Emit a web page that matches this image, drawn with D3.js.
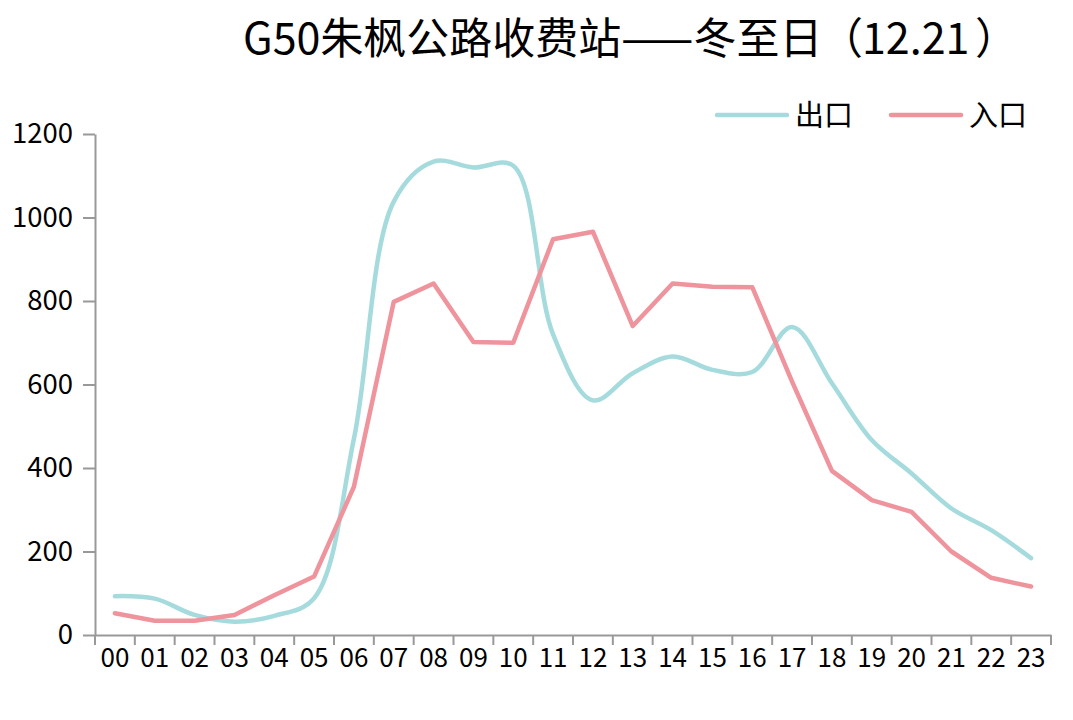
<!DOCTYPE html>
<html>
<head>
<meta charset="utf-8">
<script src="https://cdn.jsdelivr.net/npm/d3@7"></script>
<style>
  html, body { margin: 0; padding: 0; background: #fff; }
  svg { display: block; font-family: "Noto Sans CJK SC", "Noto Sans", sans-serif; }
  text { text-spacing-trim: space-all; }
</style>
</head>
<body>
<svg id="chart" width="1073" height="720"></svg>
<script>
const titleMain = "G50朱枫公路收费站——冬至日";
const titleDate = ["（", "12.21", "）"];
const hours = ["00","01","02","03","04","05","06","07","08","09","10","11","12","13","14","15","16","17","18","19","20","21","22","23"];
const seriesNames = ["出口", "入口"];
const exitValues  = [93, 87, 48, 32, 46, 88, 470, 1038, 1134, 1120, 1124, 720, 562, 627, 667, 635, 630, 738, 603, 467, 387, 303, 251, 184];
const entryValues = [52, 34, 34, 48, 95, 140, 355, 798, 842, 702, 700, 948, 966, 740, 842, 834, 833, 607, 393, 323, 295, 200, 137, 116];
const yTicks = [0, 200, 400, 600, 800, 1000, 1200];
const colors = ["#a6dbde", "#ef939c"];

const svg = d3.select("#chart");
const x = d3.scaleBand().domain(hours).range([95, 1051]);
const y = d3.scaleLinear().domain([0, 1200]).range([635, 134]);
const axisColor = "#999";

// title (pieces placed separately so the full-width brackets keep their width)
const tg = svg.append("g").style("font-size", "43px").attr("fill", "#000");
const titlePieces = [
  {text: titleMain, x: 243},
  {text: titleDate[0], x: 820},
  {text: titleDate[1], x: 862},
  {text: titleDate[2], x: 975}
];
titlePieces.forEach(p => tg.append("text").attr("x", p.x).attr("y", 54).text(p.text));

// y axis
const yAxis = svg.append("g").attr("transform", "translate(95,0)")
  .call(d3.axisLeft(y).tickValues(yTicks).tickFormat(d3.format("d")).tickSize(12).tickSizeOuter(0).tickPadding(10));
yAxis.select(".domain").attr("stroke", axisColor).attr("stroke-width", 2);
yAxis.selectAll(".tick line").attr("stroke", axisColor).attr("stroke-width", 2);
yAxis.selectAll(".tick text").style("font-size", "27.5px").attr("fill", "#000")
  .style("font-family", '"Noto Sans CJK SC", sans-serif');

// x axis
const xAxis = svg.append("g").attr("transform", "translate(0,635)")
  .call(d3.axisBottom(x).tickSize(0).tickSizeOuter(0).tickPadding(14));
xAxis.select(".domain").attr("stroke", axisColor).attr("stroke-width", 2);
xAxis.selectAll(".tick text").style("font-size", "26px").attr("fill", "#000")
  .style("font-family", '"Noto Sans CJK SC", sans-serif');
const bounds = hours.map(h => x(h)).concat([x.range()[1]]);
xAxis.selectAll(".bound").data(bounds).enter().append("line")
  .attr("x1", d => d).attr("x2", d => d).attr("y1", 0).attr("y2", 10)
  .attr("stroke", axisColor).attr("stroke-width", 2);

const cx = h => x(h) + x.bandwidth() / 2;

// exit (smooth)
const exitLine = d3.line().x((d, i) => cx(hours[i])).y(d => y(d)).curve(d3.curveCatmullRom.alpha(0.5));
svg.append("path").datum(exitValues).attr("d", exitLine)
  .attr("fill", "none").attr("stroke", colors[0]).attr("stroke-width", 4.5)
  .attr("stroke-linejoin", "round").attr("stroke-linecap", "round");

// entry (straight)
const entryLine = d3.line().x((d, i) => cx(hours[i])).y(d => y(d));
svg.append("path").datum(entryValues).attr("d", entryLine)
  .attr("fill", "none").attr("stroke", colors[1]).attr("stroke-width", 4.5)
  .attr("stroke-linejoin", "round").attr("stroke-linecap", "round");

// legend
const legendItems = [{x: 717, name: seriesNames[0], c: colors[0]}, {x: 891, name: seriesNames[1], c: colors[1]}];
const lg = svg.append("g");
legendItems.forEach(it => {
  lg.append("line").attr("x1", it.x).attr("x2", it.x + 70).attr("y1", 115).attr("y2", 115)
    .attr("stroke", it.c).attr("stroke-width", 4.5).attr("stroke-linecap", "round");
  lg.append("text").attr("x", it.x + 78).attr("y", 126).style("font-size", "29px")
    .attr("fill", "#000").text(it.name);
});
</script>
</body>
</html>
